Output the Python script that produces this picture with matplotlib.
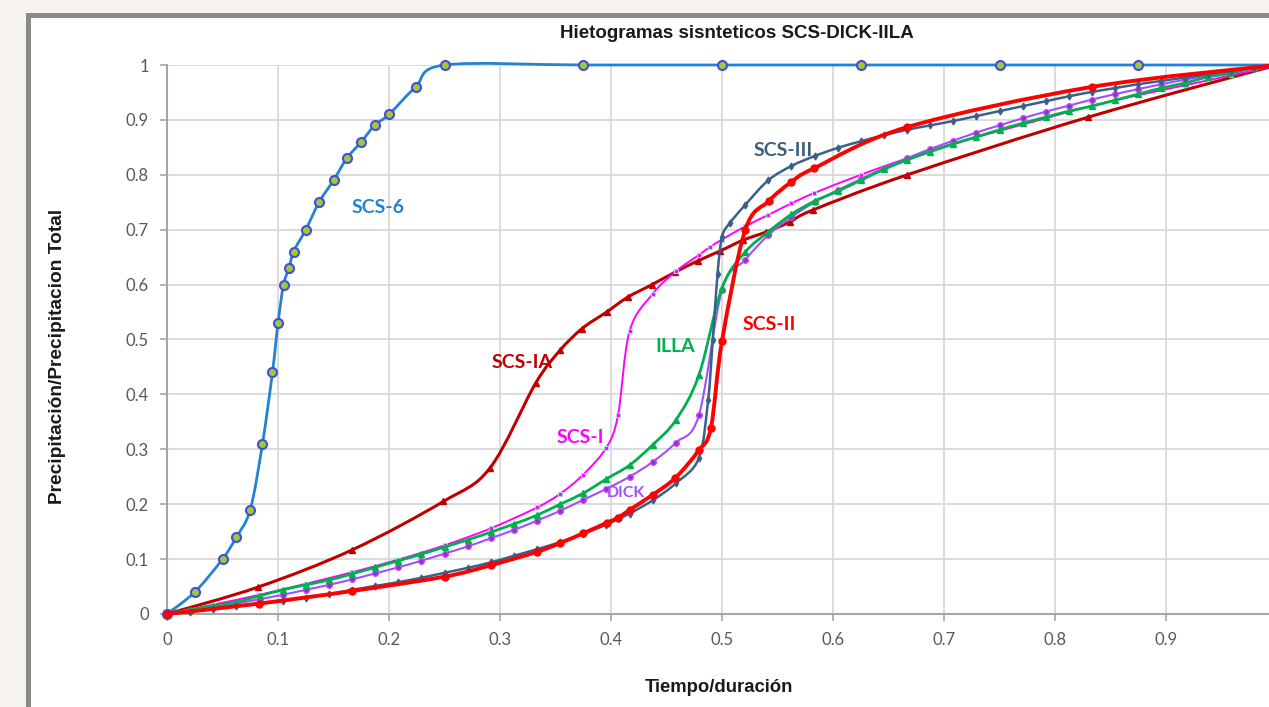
import matplotlib
matplotlib.use("Agg")
import matplotlib.pyplot as plt
from matplotlib.patches import Rectangle, PathPatch
from matplotlib.path import Path
from matplotlib.ticker import FuncFormatter, MultipleLocator

# ---- data (Tiempo/duracion vs P/Ptotal) ----
h48 = [k / 48 for k in range(49)]

scs6_x = [0, 0.025, 0.05, 0.0625, 0.075, 0.086, 0.095, 0.1, 0.105, 0.11, 0.114,
          0.125, 0.137, 0.15, 0.162, 0.175, 0.187, 0.2, 0.224, 0.25,
          0.375, 0.5, 0.625, 0.75, 0.875, 1.0]
scs6_y = [0, 0.04, 0.10, 0.14, 0.19, 0.31, 0.44, 0.53, 0.60, 0.63, 0.66,
          0.70, 0.75, 0.79, 0.83, 0.86, 0.89, 0.91, 0.96, 1.0,
          1.0, 1.0, 1.0, 1.0, 1.0, 1.0]

scs1a_x = [0, 0.082, 0.167, 0.249, 0.291, 0.332, 0.354, 0.374, 0.396, 0.415,
           0.437, 0.458, 0.478, 0.498, 0.519, 0.54, 0.561, 0.582, 0.667, 0.83, 1.0]
scs1a_y = [0, 0.049, 0.117, 0.205, 0.266, 0.42, 0.48, 0.52, 0.55, 0.577,
           0.60, 0.623, 0.643, 0.661, 0.681, 0.696, 0.714, 0.736, 0.80, 0.905, 1.0]

scs1_x = [0, 0.0417, 0.0833, 0.125, 0.1667, 0.2083, 0.25, 0.2917, 0.3333, 0.3542,
          0.375, 0.3958, 0.4063, 0.4167, 0.4375, 0.4583, 0.4792, 0.4896, 0.5,
          0.5208, 0.5417, 0.5625, 0.5833, 0.625, 0.6667, 0.7083, 0.75, 0.7917,
          0.8333, 0.875, 0.9167, 0.9583, 1.0]
scs1_y = [0, 0.017, 0.035, 0.055, 0.076, 0.099, 0.125, 0.156, 0.194, 0.219,
          0.254, 0.303, 0.362, 0.515, 0.583, 0.624, 0.654, 0.669, 0.682,
          0.706, 0.727, 0.748, 0.767, 0.80, 0.83, 0.857, 0.88, 0.903,
          0.926, 0.945, 0.963, 0.981, 1.0]

dick_y = [0, 0.006, 0.012, 0.019, 0.027, 0.035, 0.044, 0.053, 0.063, 0.074,
          0.085, 0.097, 0.11, 0.123, 0.138, 0.153, 0.17, 0.188, 0.208, 0.228,
          0.25, 0.277, 0.312, 0.362, 0.59, 0.645, 0.69, 0.723, 0.75, 0.772,
          0.792, 0.812, 0.83, 0.847, 0.862, 0.877, 0.89, 0.903, 0.915, 0.926,
          0.937, 0.947, 0.956, 0.965, 0.973, 0.981, 0.988, 0.994, 1.0]

illa_y = [0, 0.008, 0.015, 0.022, 0.033, 0.044, 0.053, 0.062, 0.073, 0.085,
          0.097, 0.109, 0.122, 0.135, 0.149, 0.164, 0.18, 0.20, 0.22, 0.246,
          0.271, 0.308, 0.353, 0.435, 0.594, 0.659, 0.696, 0.728, 0.752, 0.77,
          0.79, 0.81, 0.827, 0.842, 0.856, 0.869, 0.882, 0.894, 0.905, 0.916,
          0.925, 0.936, 0.947, 0.958, 0.967, 0.978, 0.985, 0.995, 1.0]

scs2_x = [0, 0.083, 0.167, 0.25, 0.292, 0.333, 0.354, 0.375, 0.396, 0.406,
          0.417, 0.4375, 0.458, 0.479, 0.49, 0.5, 0.521, 0.542, 0.5625, 0.583,
          0.667, 0.833, 1.0]
scs2_y = [0, 0.019, 0.042, 0.068, 0.089, 0.113, 0.129, 0.147, 0.166, 0.175,
          0.19, 0.217, 0.248, 0.298, 0.339, 0.497, 0.70, 0.752, 0.787, 0.812,
          0.887, 0.96, 1.0]

scs3_x = h48[:24] + [0.4875, 0.4917, 0.496, 0.5, 0.507] + h48[25:]
scs3_y = [0, 0.004, 0.009, 0.014, 0.019, 0.024, 0.030, 0.036, 0.044, 0.051,
          0.058, 0.066, 0.075, 0.084, 0.094, 0.106, 0.118, 0.131, 0.146, 0.163,
          0.183, 0.207, 0.238, 0.284,
          0.39, 0.50, 0.62, 0.687, 0.712,
          0.745, 0.79, 0.816, 0.834, 0.849, 0.861, 0.872, 0.882, 0.890, 0.898,
          0.907, 0.916, 0.925, 0.934, 0.943, 0.951, 0.958, 0.965, 0.971, 0.977,
          0.983, 0.989, 0.995, 1.0]

labels = ["SCS-6", "SCS-IA", "SCS-I", "DICK", "ILLA", "SCS-II", "SCS-III"]
label_x = [0.190, 0.320, 0.372, 0.413, 0.458, 0.543, 0.555]
label_y = [0.741, 0.459, 0.322, 0.220, 0.488, 0.528, 0.845]
x_ticks = [0, 0.1, 0.2, 0.3, 0.4, 0.5, 0.6, 0.7, 0.8, 0.9]

C6, CIA, CI, CDICK, CILLA, CII, CIII = ("#2383d2", "#c00000", "#ff00ff", "#9f4fff",
                                        "#00b050", "#ff0000", "#3b5f8c")


def smooth(ax, x, y, color, lw, z):
    # Excel-style smoothed line through the points (cubic Bezier segments)
    pts = list(zip(x, y))
    n = len(pts)
    verts, codes = [pts[0]], [Path.MOVETO]
    for i in range(n - 1):
        p0 = pts[i - 1] if i > 0 else pts[i]
        p1, p2 = pts[i], pts[i + 1]
        p3 = pts[i + 2] if i + 2 < n else pts[i + 1]
        c1 = (p1[0] + (p2[0] - p0[0]) / 6, p1[1] + (p2[1] - p0[1]) / 6)
        c2 = (p2[0] - (p3[0] - p1[0]) / 6, p2[1] - (p3[1] - p1[1]) / 6)
        verts += [c1, c2, p2]
        codes += [Path.CURVE4] * 3
    ax.add_patch(PathPatch(Path(verts, codes), facecolor="none", edgecolor=color,
                           lw=lw, zorder=z, clip_on=False, capstyle="round",
                           joinstyle="round"))


fig = plt.figure(figsize=(12.69, 7.07), dpi=100, facecolor="#f7f3ee")
fig.patches.append(Rectangle((28 / 1269, -0.1), 1.2, 1.1 - 15.5 / 707,
                             transform=fig.transFigure, facecolor="white",
                             edgecolor="#8a8a8a", linewidth=3.6, zorder=-5))

ax = fig.add_axes([167 / 1269, 93 / 707, 1110 / 1269, 549 / 707])
ax.set_facecolor("none")
ax.set_zorder(2)

smooth(ax, scs6_x, scs6_y, C6, 2, 3)
ax.plot(scs6_x, scs6_y, ls="none", marker="o", ms=6.5, mfc="#9acd32",
        mec="#4a4ae0", mew=1.5, zorder=3, clip_on=False)
smooth(ax, scs1a_x, scs1a_y, CIA, 2.2, 3)
ax.plot(scs1a_x, scs1a_y, ls="none", color=CIA, marker="^", ms=4.5, zorder=3,
        clip_on=False)
smooth(ax, scs1_x, scs1_y, CI, 1.4, 3)
ax.plot(scs1_x, scs1_y, ls="none", marker="s", ms=3.5, mfc=CI, mec="#a8d8e8",
        mew=0.8, zorder=3, clip_on=False)
smooth(ax, h48, dick_y, CDICK, 1.5, 3)
ax.plot(h48, dick_y, ls="none", marker="o", ms=4, mfc="#6a3de8", mec="#e040e0",
        mew=1, zorder=3, clip_on=False)
smooth(ax, h48, illa_y, CILLA, 2, 4)
ax.plot(h48, illa_y, ls="none", color=CILLA, marker="^", ms=4.5, zorder=4,
        clip_on=False)
smooth(ax, scs3_x, scs3_y, CIII, 1.8, 4)
ax.plot(scs3_x, scs3_y, ls="none", color=CIII, marker="d", ms=3.5, zorder=4,
        clip_on=False)
smooth(ax, scs2_x, scs2_y, CII, 2.8, 5)
ax.plot(scs2_x, scs2_y, ls="none", color=CII, marker="o", ms=5, zorder=5,
        clip_on=False)

colors = [C6, CIA, CI, CDICK, CILLA, CII, "#3b5f7c"]
sizes = [14, 14, 14, 11.5, 14, 14, 14]
for t, x, y, c, s in zip(labels, label_x, label_y, colors, sizes):
    ax.text(x, y, t, color=c, fontsize=s, fontweight="bold", family="Lato",
            ha="center", va="center", zorder=6)

ax.set_xlim(0, 1.0)
ax.set_ylim(0, 1.0)
ax.set_xticks(x_ticks)
ax.yaxis.set_major_locator(MultipleLocator(0.1))
fmt = FuncFormatter(lambda v, p: f"{v:.1f}".rstrip("0").rstrip(".") if v else "0")
ax.xaxis.set_major_formatter(fmt)
ax.yaxis.set_major_formatter(fmt)
ax.grid(True, color="#d9d9d9", lw=1.3, zorder=1)
ax.set_axisbelow(True)
for s in ("top", "right"):
    ax.spines[s].set_visible(False)
for s in ("left", "bottom"):
    ax.spines[s].set_color("#a6a6a6")
    ax.spines[s].set_linewidth(1.5)
ax.tick_params(colors="#a6a6a6", labelcolor="#595959", labelsize=12, length=5,
               width=1.2, pad=8)
for lab in ax.get_xticklabels() + ax.get_yticklabels():
    lab.set_family("Lato")

fig.text(737 / 1269, 1 - 33 / 707, "Hietogramas sisnteticos SCS-DICK-IILA",
         ha="center", va="center", fontsize=13.5, fontweight="bold",
         family="Liberation Sans", color="#1a1a1a")
fig.text(719 / 1269, 1 - 688 / 707, "Tiempo/duración", ha="center", va="center",
         fontsize=13.3, fontweight="bold", family="Liberation Sans", color="#1a1a1a")
fig.text(58 / 1269, 1 - 356 / 707, "Precipitación/Precipitacion Total",
         ha="center", va="center", rotation=90, fontsize=13.8, fontweight="bold",
         family="Liberation Sans", color="#1a1a1a")

fig.savefig("out.png", dpi=100, facecolor=fig.get_facecolor())
